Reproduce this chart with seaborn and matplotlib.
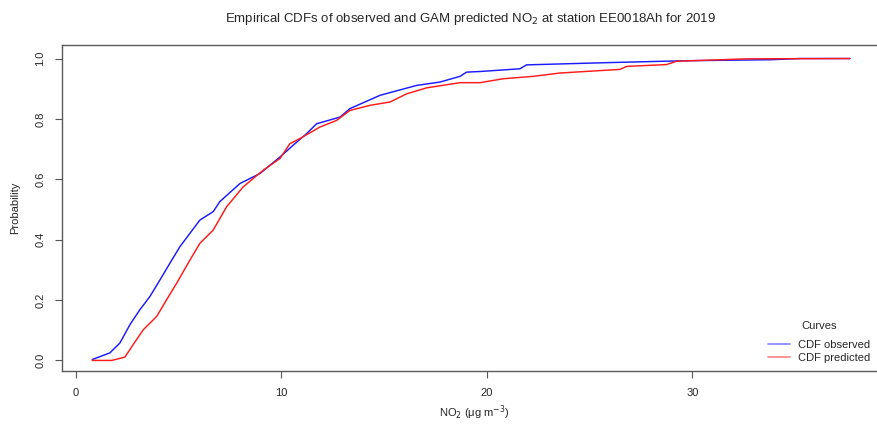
import matplotlib
matplotlib.use("Agg")
import matplotlib.pyplot as plt
import seaborn as sns
import pandas as pd
from matplotlib.lines import Line2D

# ---- data ----
obs_x = [0.79, 1.65, 2.14, 2.63, 3.11, 3.6, 4.09, 4.57, 5.06, 6.03, 6.68, 7.0, 7.98, 8.95,
         9.93, 10.57, 11.22, 11.71, 12.85, 13.33, 14.79, 16.58, 17.71, 18.69, 19.01, 19.66,
         21.6, 21.93, 25.66, 28.58, 30.04, 33.77, 35.23, 37.66]
obs_y = [0.003, 0.025, 0.058, 0.119, 0.168, 0.212, 0.267, 0.322, 0.377, 0.465, 0.493, 0.526,
         0.586, 0.619, 0.674, 0.713, 0.751, 0.784, 0.806, 0.834, 0.878, 0.911, 0.922, 0.941,
         0.955, 0.957, 0.966, 0.979, 0.986, 0.991, 0.993, 0.996, 1.0, 1.0]
pred_x = [0.79, 1.74, 2.38, 2.79, 3.28, 3.93, 4.41, 4.9, 5.55, 6.03, 6.68, 7.33, 8.14, 9.11,
          9.93, 10.41, 10.9, 11.87, 12.68, 13.33, 14.31, 15.28, 16.09, 17.07, 18.69, 19.66,
          20.79, 22.25, 23.55, 26.47, 26.8, 28.74, 29.23, 32.64, 37.66]
pred_y = [0.0, 0.0, 0.011, 0.053, 0.102, 0.146, 0.201, 0.256, 0.333, 0.388, 0.432, 0.509,
          0.575, 0.630, 0.669, 0.718, 0.735, 0.773, 0.795, 0.828, 0.845, 0.856, 0.883, 0.903,
          0.920, 0.920, 0.933, 0.941, 0.952, 0.964, 0.974, 0.980, 0.991, 0.999, 1.0]
curve_names = ["CDF observed", "CDF predicted"]
curve_colors = ["#1a1aff", "#ff1a1a"]
x_ticks = [0, 10, 20, 30]
y_ticks = [0.0, 0.2, 0.4, 0.6, 0.8, 1.0]

df = pd.concat([
    pd.DataFrame({"x": obs_x, "y": obs_y, "curve": curve_names[0]}),
    pd.DataFrame({"x": pred_x, "y": pred_y, "curve": curve_names[1]}),
], ignore_index=True)

sns.set_theme(style="white")
plt.rcParams["font.family"] = ["Liberation Sans", "DejaVu Sans"]

fig = plt.figure(figsize=(8.77, 4.24), dpi=100)
ax = fig.add_axes([0.0707, 0.125, 0.941, 0.769])

sns.lineplot(data=df, x="x", y="y", hue="curve", palette=dict(zip(curve_names, curve_colors)),
             estimator=None, sort=False, linewidth=1.05, legend=False, ax=ax)

ax.set_xlim(-0.68, 39.48)
ax.set_ylim(-0.035, 1.045)
ax.set_xticks(x_ticks)
ax.set_xticklabels([str(t) for t in x_ticks], fontsize=8)
ax.set_yticks(y_ticks)
ax.set_yticklabels([f"{t:.1f}" for t in y_ticks], fontsize=8, rotation=90, va="center")
ax.tick_params(axis="both", direction="out", length=5, width=0.8, color="#555555",
               bottom=True, left=True, pad=7)
for s in ax.spines.values():
    s.set_color("#5a5a5a")
    s.set_linewidth(1.0)

ax.set_xlabel("NO$_2$ (μg m$^{-3}$)", fontsize=8, labelpad=4)
ax.set_ylabel("Probability", fontsize=8, labelpad=11)
fig.text(0.536, 0.955, r"Empirical CDFs of observed and GAM predicted NO$_2$ at station EE0018Ah for 2019",
         ha="center", va="center", fontsize=9.5)

handles = [Line2D([0], [0], color=c, lw=1.2, alpha=0.55) for c in curve_colors]
leg = ax.legend(handles, curve_names, title="Curves", loc="lower right",
                bbox_to_anchor=(1.0, 0.128), bbox_transform=fig.transFigure,
                frameon=False, fontsize=8, title_fontsize=8, handlelength=2.0,
                handletextpad=0.7, labelspacing=0.25, borderaxespad=0.2)
leg._legend_box.sep = 7

fig.savefig("out.png", dpi=100)
